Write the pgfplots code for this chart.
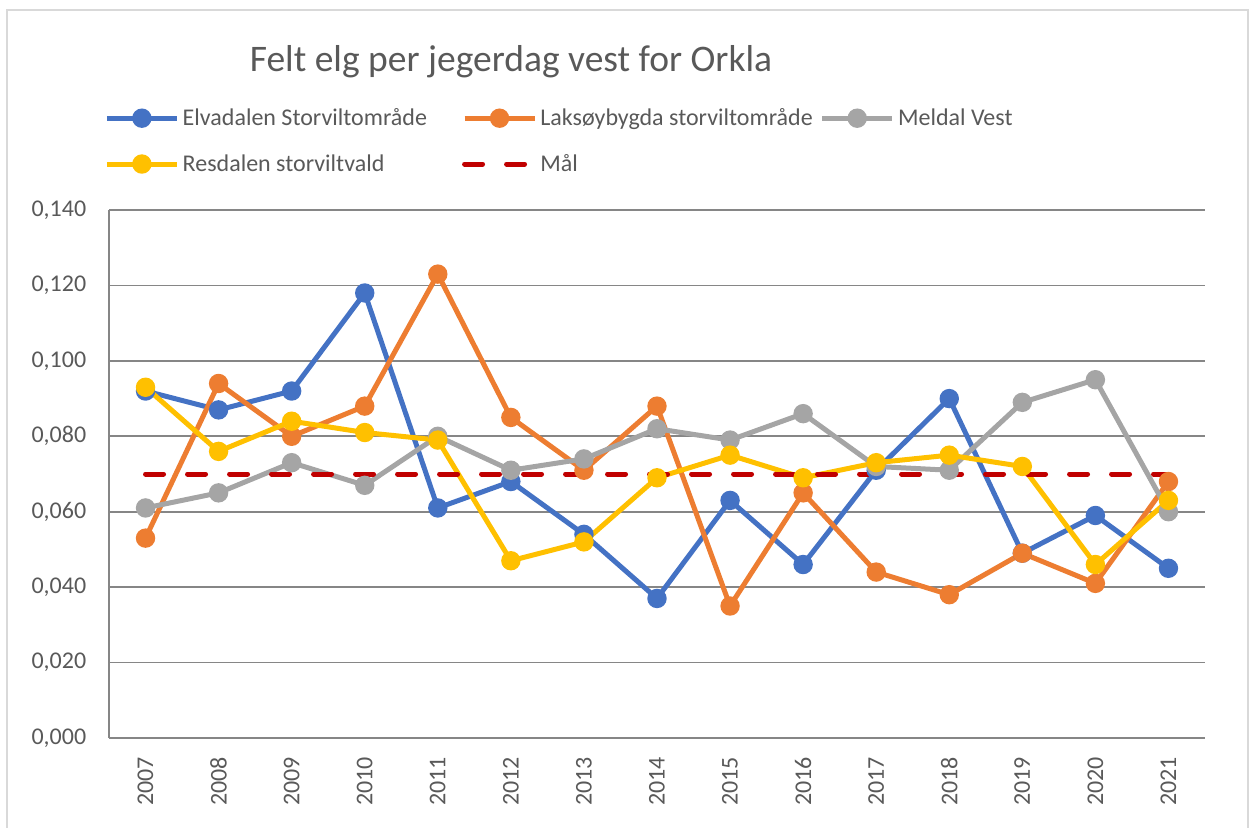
\documentclass[border=0pt]{standalone}
\usepackage{pgfplots}
\pgfplotsset{compat=1.18}
\usepackage{fontspec}
\setmainfont{Carlito}
\definecolor{cBlue}{RGB}{68,114,196}
\definecolor{cOrange}{RGB}{237,125,49}
\definecolor{cGray}{RGB}{165,165,165}
\definecolor{cYellow}{RGB}{255,192,0}
\definecolor{cRed}{RGB}{192,0,0}
\definecolor{gridc}{RGB}{134,134,134}
\definecolor{txt}{RGB}{89,89,89}
\definecolor{border}{RGB}{217,217,217}
\begin{document}
\begin{tikzpicture}
\path[use as bounding box] (0,0) rectangle (750pt,496.2pt);
\draw[border,line width=1.2pt] (4.2pt,-5pt) -- (4.2pt,490.2pt) -- (748.8pt,490.2pt) -- (748.8pt,-5pt);
\node[txt,font=\fontsize{22.5}{27}\selectfont] at (306.6pt,459pt) {Felt elg per jegerdag vest for Orkla};
\begin{axis}[
  at={(65.4pt,53.4pt)}, anchor=south west,
  scale only axis, width=657.6pt, height=316.8pt,
  xmin=2006.5, xmax=2021.5, ymin=0, ymax=0.14,
  xtick={2007,...,2021},
  xticklabels={2007,2008,2009,2010,2011,2012,2013,2014,2015,2016,2017,2018,2019,2020,2021},
  ytick={0,0.02,0.04,0.06,0.08,0.1,0.12,0.14},
  yticklabel style={/pgf/number format/fixed,/pgf/number format/fixed zerofill,/pgf/number format/precision=3,/pgf/number format/use comma,anchor=east,inner sep=0pt},
  /pgf/number format/assume math mode=true,
  scaled y ticks=false,
  axis lines=left,
  x axis line style={-}, y axis line style={-},
  axis line style={draw=gridc,line width=1pt},
  ymajorgrids, grid style={draw=gridc,line width=1pt},
  major tick length=0pt,
  tick label style={txt,font=\fontsize{14.4}{17}\selectfont},
  xticklabel style={rotate=90,anchor=east,inner sep=0pt},
  xticklabel shift=11.4pt,
  yticklabel shift=13.5pt,
  clip=false,
  legend columns=3,
  legend style={at={(-0.0045,1.1993)},anchor=north west,draw=none,fill=none,
    font=\fontsize{14.4}{17}\selectfont, text=txt,
    inner sep=0pt, row sep=11.8pt,
    cells={anchor=west}},
  legend cell align=left,
  /tikz/every even column/.append style={column sep=3.6pt},
  legend image code/.code={\draw[mark repeat=2,mark phase=2,#1] plot coordinates {(0pt,0pt) (21pt,0pt) (42pt,0pt)};},
  every axis plot/.append style={line width=3pt, mark=*, mark size=4.3pt, mark options={solid}},
]
\addplot[cBlue, mark options={fill=cBlue,draw=cBlue}] coordinates {
(2007,0.092) (2008,0.087) (2009,0.092) (2010,0.118) (2011,0.061) (2012,0.068) (2013,0.054) (2014,0.037) (2015,0.063) (2016,0.046) (2017,0.071) (2018,0.090) (2019,0.049) (2020,0.059) (2021,0.045)};
\addlegendentry{\makebox[162pt][l]{Elvadalen Storviltområde}}
\addplot[cOrange, mark options={fill=cOrange,draw=cOrange}] coordinates {
(2007,0.053) (2008,0.094) (2009,0.080) (2010,0.088) (2011,0.123) (2012,0.085) (2013,0.071) (2014,0.088) (2015,0.035) (2016,0.065) (2017,0.044) (2018,0.038) (2019,0.049) (2020,0.041) (2021,0.068)};
\addlegendentry{\makebox[162pt][l]{Laksøybygda storviltområde}}
\addplot[cGray, mark options={fill=cGray,draw=cGray}] coordinates {
(2007,0.061) (2008,0.065) (2009,0.073) (2010,0.067) (2011,0.080) (2012,0.071) (2013,0.074) (2014,0.082) (2015,0.079) (2016,0.086) (2017,0.072) (2018,0.071) (2019,0.089) (2020,0.095) (2021,0.060)};
\addlegendentry{Meldal Vest}
\addplot[cYellow, mark options={fill=cYellow,draw=cYellow}] coordinates {
(2007,0.093) (2008,0.076) (2009,0.084) (2010,0.081) (2011,0.079) (2012,0.047) (2013,0.052) (2014,0.069) (2015,0.075) (2016,0.069) (2017,0.073) (2018,0.075) (2019,0.072) (2020,0.046) (2021,0.063)};
\addlegendentry{\makebox[162pt][l]{Resdalen storviltvald}}
\addplot[cRed, mark=none, line cap=round, dash pattern=on 10.8pt off 14.4pt] coordinates {
(2007,0.070) (2008,0.070) (2009,0.070) (2010,0.070) (2011,0.070) (2012,0.070) (2013,0.070) (2014,0.070) (2015,0.070) (2016,0.070) (2017,0.070) (2018,0.070) (2019,0.070) (2020,0.070) (2021,0.070)};
\addlegendentry{Mål}
\end{axis}
\end{tikzpicture}
\end{document}
